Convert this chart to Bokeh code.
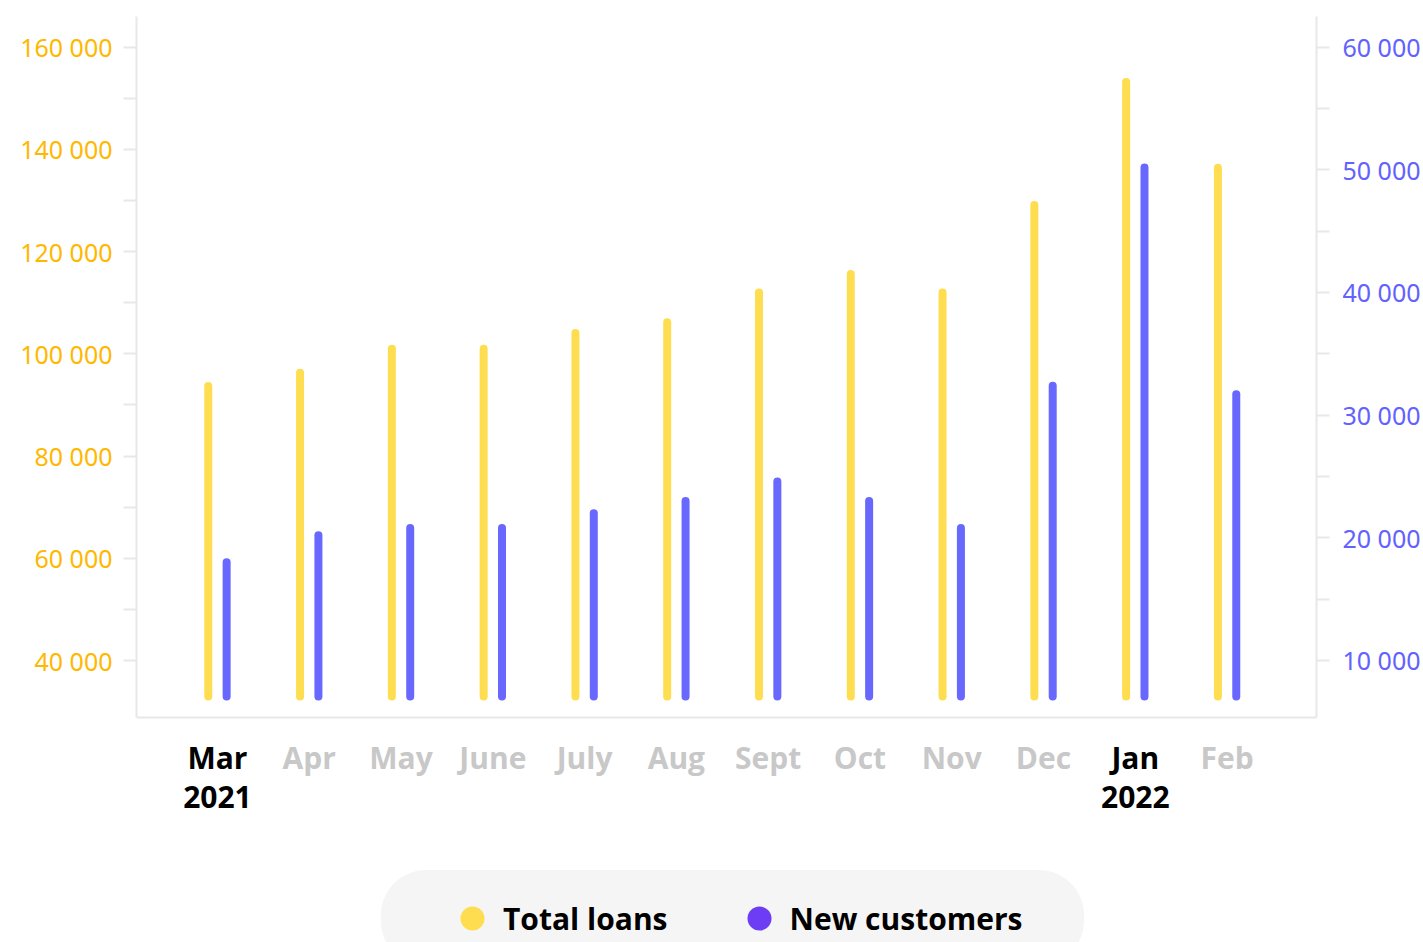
from bokeh.plotting import figure
from bokeh.models import (Range1d, LinearAxis, FixedTicker, ColumnDataSource,
                          Legend, LegendItem, Span)
from bokeh.core.properties import value
from bokeh.transform import dodge
from bokeh.embed import file_html
from bokeh.resources import INLINE

# ---------------- data ----------------
months = ["Mar", "Apr", "May", "June", "July", "Aug", "Sept", "Oct", "Nov", "Dec", "Jan", "Feb"]
years = ["2021", "", "", "", "", "", "", "", "", "", "2022", ""]
total_loans = [93700, 96300, 101000, 101000, 104100, 106200, 112000, 115600, 112000, 129100, 153200, 136400]
new_customers = [18000, 20200, 20800, 20800, 22000, 23000, 24600, 23000, 20800, 32400, 50200, 31700]
loan_ticks = [40000, 60000, 80000, 100000, 120000, 140000, 160000]
loan_minor = [50000, 70000, 90000, 110000, 130000, 150000]
cust_ticks = [10000, 20000, 30000, 40000, 50000, 60000]
cust_minor = [15000, 25000, 35000, 45000, 55000]

# ---------------- style ----------------
W, H = 1423, 942
B_L, B_R, B_T, B_B = 136, 106, 16, 0
FRAME_H = H - B_T - B_B
# visible axis extent (bottom, top) and full frame range for both scales
loan_axis = (28850, 166000)
cust_axis = (5350, 62500)
loan_range = (-15170, 166000)
cust_range = (-12990, 62500)
BASE_PX = 21          # bar foot above the baseline, px
MONTH_DY = 40         # month label centre below the baseline, px
YEAR_DY = 79          # year label centre below the baseline, px
YELLOW = "#FFDD50"
BLUE = "#6868FF"
DOT_BLUE = "#6C3DF5"
LOAN_TXT = "#FFB800"
CUST_TXT = "#6262FF"
GRID = "#e8e8e8"
GREY_TXT = "#c8c8c8"
FONT = "Open Sans"


def base(axis, rng):
    return axis[0] + BASE_PX * (rng[1] - rng[0]) / FRAME_H


def fmt(v):
    return f"{v:,}".replace(",", " ")


x = list(range(len(months)))
src = ColumnDataSource(dict(
    x=x, loans=total_loans, cust=new_customers,
    lb=[base(loan_axis, loan_range)] * len(x),
    cb=[base(cust_axis, cust_range)] * len(x)))

p = figure(width=W, height=H, output_backend="svg", toolbar_location=None,
           x_range=Range1d(-0.882, 11.974), y_range=Range1d(*loan_range),
           x_axis_location=None,
           min_border_left=B_L, min_border_right=B_R, min_border_top=B_T,
           min_border_bottom=B_B)
p.extra_y_ranges = {"cust": Range1d(*cust_range)}
p.grid.visible = False
p.outline_line_color = None
p.background_fill_color = "white"
p.border_fill_color = "white"

# baseline
p.add_layout(Span(location=loan_axis[0], dimension="width", line_color=GRID, line_width=2))

p.segment(x0=dodge("x", -0.1), x1=dodge("x", -0.1), y0="lb", y1="loans", source=src,
          line_width=8, line_cap="round", line_color=YELLOW)
p.segment(x0=dodge("x", 0.1), x1=dodge("x", 0.1), y0="cb", y1="cust", source=src,
          line_width=8, line_cap="round", line_color=BLUE, y_range_name="cust")


def style_y(ax, color, standoff, bounds):
    ax.bounds = bounds
    ax.axis_line_color = GRID
    ax.axis_line_width = 2
    ax.major_tick_line_color = GRID
    ax.major_tick_line_width = 2
    ax.major_tick_out = 13
    ax.major_tick_in = 0
    ax.minor_tick_line_color = GRID
    ax.minor_tick_line_width = 2
    ax.minor_tick_out = 13
    ax.minor_tick_in = 0
    ax.major_label_text_color = color
    ax.major_label_text_font = "Noto Sans"
    ax.major_label_text_font_size = "25px"
    ax.major_label_standoff = standoff


ly = p.yaxis[0]
ly.ticker = FixedTicker(ticks=loan_ticks, minor_ticks=loan_minor)
ly.major_label_overrides = {t: fmt(t) for t in loan_ticks}
style_y(ly, LOAN_TXT, 11, loan_axis)

ry = LinearAxis(y_range_name="cust", ticker=FixedTicker(ticks=cust_ticks, minor_ticks=cust_minor))
ry.major_label_overrides = {t: fmt(t) for t in cust_ticks}
style_y(ry, CUST_TXT, 13, cust_axis)
p.add_layout(ry, "right")

# month / year labels under the baseline
plain = [i for i in x if not years[i]]
marked = [i for i in x if years[i]]
lab_grey = ColumnDataSource(dict(x=plain, y=[loan_axis[0]] * len(plain),
                                 t=[months[i] for i in plain]))
lab_month = ColumnDataSource(dict(x=marked, y=[loan_axis[0]] * len(marked),
                                  t=[months[i] for i in marked]))
lab_year = ColumnDataSource(dict(x=marked, y=[loan_axis[0]] * len(marked),
                                 t=[years[i] for i in marked]))
txt = dict(text="t", text_align="center", text_baseline="middle",
           text_font=value(FONT), text_font_style="bold", text_font_size="30px")
p.text(x="x", y="y", source=lab_grey, y_offset=MONTH_DY, text_color=GREY_TXT, **txt)
p.text(x="x", y="y", source=lab_month, y_offset=MONTH_DY, text_color="black", **txt)
p.text(x="x", y="y", source=lab_year, y_offset=YEAR_DY, text_color="black", **txt)

# legend
nan = float("nan")
dot_src = ColumnDataSource(dict(x=[nan], y=[nan]))
r0 = p.scatter("x", "y", source=dot_src, marker="circle", size=24,
               fill_alpha=0, line_alpha=0)
r1 = p.scatter("x", "y", source=dot_src, marker="circle", size=24,
               fill_color=YELLOW, line_color=None)
r2 = p.scatter("x", "y", source=dot_src, marker="circle", size=24,
               fill_color=DOT_BLUE, line_color=None)
legend = Legend(items=[LegendItem(label="", renderers=[r0]),
                       LegendItem(label="Total loans", renderers=[r1]),
                       LegendItem(label="", renderers=[r0]),
                       LegendItem(label="New customers", renderers=[r2]),
                       LegendItem(label="", renderers=[r0])],
                location=(245, -24), orientation="horizontal",
                padding=8, spacing=0, glyph_width=60, glyph_height=96,
                label_width=0, label_standoff=1, margin=0,
                label_text_font=FONT, label_text_font_style="bold",
                label_text_font_size="30px", label_text_color="black",
                background_fill_color="#f5f5f5", background_fill_alpha=1,
                border_line_color=None)
if "border_radius" in Legend.properties():
    legend.border_radius = 45
p.add_layout(legend)

open("out.html", "w").write(file_html(p, INLINE))
